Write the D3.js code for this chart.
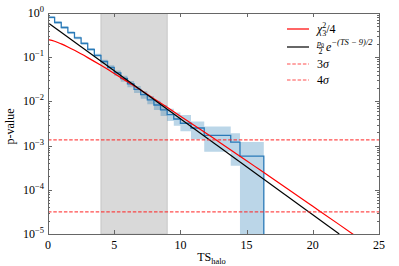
<!DOCTYPE html>
<html>
<head>
<meta charset="utf-8">
<script src="https://cdn.jsdelivr.net/npm/d3@7"></script>
<style>
  body { margin: 0; background: #fff; }
  svg { display: block; }
  text { font-family: "Liberation Serif", "DejaVu Serif", serif; fill: #000; }
</style>
</head>
<body>
<svg width="399" height="266"></svg>
<script>
// step histogram of the halo TS p-value (bin edges, value, band low/high)
const binEdges = [0, 0.5, 1, 1.5, 2, 2.5, 3, 3.5, 4, 4.5, 5, 5.5, 6, 6.5, 7, 7.5, 8, 8.5, 9, 9.5, 10, 10.8, 11.8, 13.8, 14.5, 16.3];
const pVal  = [0.80, 0.61, 0.47, 0.36, 0.275, 0.205, 0.150, 0.110, 0.080, 0.059, 0.044, 0.033, 0.025, 0.0188, 0.0142, 0.0108, 0.0083, 0.0064, 0.0050, 0.0040, 0.0032, 0.0025, 0.0017, 0.0012, 0.00058];
const pLow  = [0.75, 0.57, 0.44, 0.335, 0.255, 0.19, 0.138, 0.100, 0.072, 0.052, 0.038, 0.028, 0.021, 0.0155, 0.0115, 0.0086, 0.0064, 0.0047, 0.0036, 0.0028, 0.0021, 0.0014, 0.00073, 0.00035, 0.000001];
const pHigh = [0.85, 0.65, 0.50, 0.385, 0.295, 0.22, 0.162, 0.120, 0.088, 0.066, 0.050, 0.038, 0.029, 0.0222, 0.0170, 0.0132, 0.0104, 0.0083, 0.0068, 0.0056, 0.0049, 0.0035, 0.0027, 0.0019, 0.0012];

// chi2_3 / 4 curve
const chiTS = [0, 0.5, 1, 1.5, 2, 3, 4, 5, 6, 7, 8, 9, 10, 11, 12, 13, 14, 15, 16, 18, 20, 22, 23.4];
const chiP  = [0.25, 0.2297, 0.2003, 0.1706, 0.1431, 0.0979, 0.0654, 0.0430, 0.0279, 0.0180, 0.0115, 0.00733, 0.00464, 0.00293, 0.00185, 0.00116, 0.000727, 0.000455, 0.000283, 0.00011, 4.24e-5, 1.63e-5, 8.3e-6];

// exponential tail (straight in log space)
const expTS = [0, 22];
const expP  = [0.6, 1e-5];

const sigmaP = [{name: "3σ", p: 1.35e-3}, {name: "4σ", p: 3.17e-5}];
const bandTS = [4, 9];

const xTicks = [0, 5, 10, 15, 20, 25];
const yTicks = [0, -1, -2, -3, -4, -5];

const margin = {top: 13, right: 20, bottom: 32, left: 48};
const w = 399 - margin.left - margin.right;
const h = 266 - margin.top - margin.bottom;

const svg = d3.select("svg");
const chart = svg.append("g").attr("transform", "translate(" + margin.left + "," + margin.top + ")");

const x = d3.scaleLinear().domain([0, 25]).range([0, w]);
const y = d3.scaleLog().domain([1e-5, 1]).range([h, 0]);

chart.append("clipPath").attr("id", "clip")
  .append("rect").attr("width", w).attr("height", h);
const plot = chart.append("g").attr("clip-path", "url(#clip)");

// grey band
plot.append("rect")
  .attr("x", x(bandTS[0])).attr("y", 0)
  .attr("width", x(bandTS[1]) - x(bandTS[0])).attr("height", h)
  .attr("fill", "#d9d9d9").attr("stroke", "#c6c6c6").attr("stroke-width", 1);

// uncertainty band (step)
const bins = pVal.map((p, i) => ({x0: binEdges[i], x1: binEdges[i + 1], p: p, lo: pLow[i], hi: pHigh[i]}));
const bandPts = [];
bins.forEach(b => { bandPts.push([b.x0, b.lo, b.hi]); bandPts.push([b.x1, b.lo, b.hi]); });
plot.append("path")
  .attr("d", d3.area().x(d => x(d[0])).y0(d => y(d[1])).y1(d => y(d[2]))(bandPts))
  .attr("fill", "#1f77b4").attr("fill-opacity", 0.3);

// step line
const stepPts = [];
bins.forEach(b => { stepPts.push([b.x0, b.p]); stepPts.push([b.x1, b.p]); });
stepPts.push([binEdges[binEdges.length - 1], 1e-6]);
plot.append("path")
  .attr("d", d3.line().x(d => x(d[0])).y(d => y(d[1])).curve(d3.curveLinear)(stepPts))
  .attr("fill", "none").attr("stroke", "#2a7ab8").attr("stroke-width", 1.3);

// chi2 curve
plot.append("path")
  .attr("d", d3.line().x((d, i) => x(chiTS[i])).y(d => y(d)).curve(d3.curveMonotoneX)(chiP))
  .attr("fill", "none").attr("stroke", "#ff0000").attr("stroke-width", 1.2);

// exponential
plot.append("path")
  .attr("d", d3.line().x((d, i) => x(expTS[i])).y(d => y(d))(expP))
  .attr("fill", "none").attr("stroke", "#000").attr("stroke-width", 1.2);

// sigma lines
plot.selectAll(".sig").data(sigmaP).enter().append("line")
  .attr("x1", 0).attr("x2", w)
  .attr("y1", d => y(d.p)).attr("y2", d => y(d.p))
  .attr("stroke", "#ff2020").attr("stroke-opacity", 0.8)
  .attr("stroke-width", 1.1).attr("stroke-dasharray", "3.5,1.8");

// frame + ticks
const frame = chart.append("g").attr("stroke", "#666").attr("fill", "none");
frame.append("rect").attr("x", 0.5).attr("y", 0.5).attr("width", w).attr("height", h).attr("stroke-width", 1);

xTicks.forEach(t => {
  const px = Math.round(x(t)) + 0.5;
  frame.append("line").attr("x1", px).attr("x2", px).attr("y1", h).attr("y2", h - 4);
  frame.append("line").attr("x1", px).attr("x2", px).attr("y1", 0).attr("y2", 4);
  chart.append("text").attr("x", x(t)).attr("y", h + 15)
    .attr("text-anchor", "middle").attr("font-size", 12).text(t);
});

for (let e = -5; e <= 0; e++) {
  const py = Math.round(y(Math.pow(10, e))) + 0.5;
  frame.append("line").attr("x1", 0).attr("x2", 4).attr("y1", py).attr("y2", py);
  frame.append("line").attr("x1", w).attr("x2", w - 4).attr("y1", py).attr("y2", py);
  if (e < 0) {
    for (let m = 2; m <= 9; m++) {
      const my = Math.round(y(m * Math.pow(10, e))) + 0.5;
      frame.append("line").attr("x1", 0).attr("x2", 2).attr("y1", my).attr("y2", my);
      frame.append("line").attr("x1", w).attr("x2", w - 2).attr("y1", my).attr("y2", my);
    }
  }
}

yTicks.forEach(e => {
  const tx = chart.append("text").attr("x", -4).attr("y", y(Math.pow(10, e)) + 4)
    .attr("text-anchor", "end").attr("font-size", 12);
  tx.append("tspan").text("10");
  tx.append("tspan").attr("dy", -5).attr("font-size", 8.5).text(e === 0 ? "0" : "−" + (-e));
});

// axis labels
chart.append("text")
  .attr("transform", "rotate(-90)")
  .attr("x", -h / 2 - 3).attr("y", -margin.left + 14)
  .attr("text-anchor", "middle").attr("font-size", 12).text("p-value");

const xl = chart.append("text").attr("x", w / 2 - 2).attr("y", h + 27)
  .attr("text-anchor", "middle").attr("font-size", 12);
xl.append("tspan").text("TS");
xl.append("tspan").attr("dy", 3).attr("font-size", 8.5).text("halo");

// legend
const legend = chart.append("g").attr("transform", "translate(" + (287 - margin.left) + ",0)");
const legRows = [
  {y: 29, color: "#ff0000", dash: null},
  {y: 47, color: "#000", dash: null},
  {y: 64, color: "#ff2020", dash: "3.5,1.8"},
  {y: 80, color: "#ff2020", dash: "3.5,1.8"}
];
legRows.forEach(r => {
  legend.append("line").attr("x1", 0).attr("x2", 22)
    .attr("y1", r.y - margin.top).attr("y2", r.y - margin.top)
    .attr("stroke", r.color).attr("stroke-width", 1.2)
    .attr("stroke-opacity", r.dash ? 0.8 : 1)
    .attr("stroke-dasharray", r.dash);
});
const tx0 = 30;
// chi2_3 / 4
const l1 = legend.append("text").attr("x", tx0).attr("y", 29 - margin.top + 4).attr("font-size", 12);
l1.append("tspan").attr("font-style", "italic").text("χ");
l1.append("tspan").attr("dy", -5).attr("font-size", 8).text("2");
l1.append("tspan").attr("dx", -4).attr("dy", 8).attr("font-size", 8).text("3");
l1.append("tspan").attr("dy", -3).text("/4");
// p0/2 e^{-(TS-9)/2}
const ly2 = 47 - margin.top;
const f = legend.append("g").attr("transform", "translate(" + tx0 + "," + ly2 + ")");
const num = f.append("text").attr("x", 3.5).attr("y", -1.5).attr("text-anchor", "middle").attr("font-size", 8);
num.append("tspan").attr("font-style", "italic").text("p");
num.append("tspan").attr("dy", 1.5).attr("font-size", 6).text("0");
f.append("line").attr("x1", 0).attr("x2", 7).attr("y1", 0.5).attr("y2", 0.5).attr("stroke", "#000").attr("stroke-width", 0.6);
f.append("text").attr("x", 3.5).attr("y", 7).attr("text-anchor", "middle").attr("font-size", 8).text("2");
const ex = f.append("text").attr("x", 9).attr("y", 4).attr("font-size", 12);
ex.append("tspan").attr("font-style", "italic").text("e");
ex.append("tspan").attr("dy", -6).attr("font-size", 8.5).attr("font-style", "italic").text("−(TS − 9)/2");
// sigma labels
sigmaP.forEach((s, i) => {
  const t = legend.append("text").attr("x", tx0).attr("y", legRows[i + 2].y - margin.top + 4).attr("font-size", 12);
  t.append("tspan").text(s.name[0]);
  t.append("tspan").attr("font-style", "italic").text("σ");
});
</script>
</body>
</html>
